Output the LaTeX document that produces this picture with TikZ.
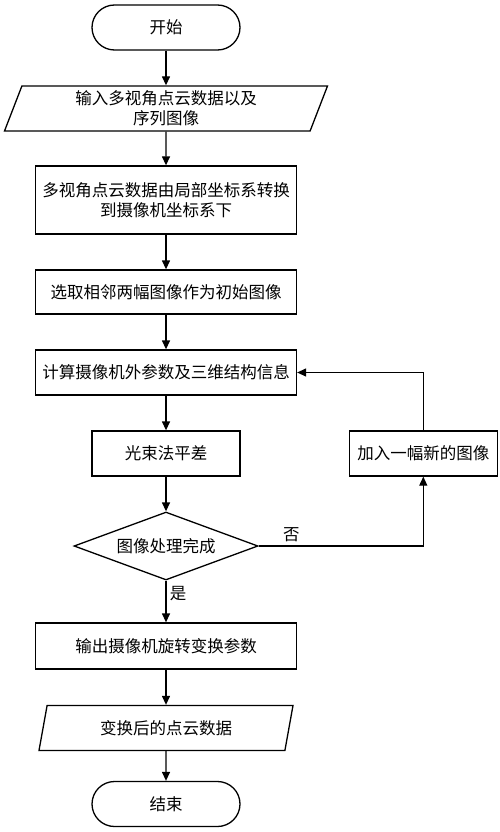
\documentclass[tikz,border=0pt]{standalone}
\usepackage{fontspec}
\setmainfont{Noto Sans CJK SC}
\usetikzlibrary{arrows.meta,positioning,shapes.geometric}

\begin{document}
\begin{tikzpicture}[x=1pt, y=1pt,
  font=\fontsize{16.5}{20}\selectfont,
  term/.style={draw, line width=1.3pt, rounded corners=22.5pt, minimum width=148pt, minimum height=45pt},
  proc/.style={draw, line width=1.3pt, minimum width=261pt, minimum height=45pt, align=center},
  io/.style={draw, line width=1.3pt, trapezium, trapezium left angle=65, trapezium right angle=115,
    trapezium stretches body, minimum height=45pt, inner sep=1pt, align=center},
  decide/.style={draw, line width=1.3pt, diamond, aspect=2.7, minimum width=184pt, minimum height=68pt, inner sep=0pt},
  arr/.style={-{Triangle[length=9pt,width=8pt]}, line width=1.3pt}]
\useasboundingbox (0,0) rectangle (500,-832);
\node[term] (start) at (166,-27.5) {开始};
\node[io, minimum width=323pt] (input) at (166,-108.5) {输入多视角点云数据以及\\序列图像};
\node[proc, minimum height=68pt] (conv) at (166,-200) {多视角点云数据由局部坐标系转换\\到摄像机坐标系下};
\node[proc, minimum height=44pt] (pick) at (166,-292) {选取相邻两幅图像作为初始图像};
\node[proc] (calc) at (166,-372.5) {计算摄像机外参数及三维结构信息};
\node[proc, minimum width=148pt] (bundle) at (166,-453.5) {光束法平差};
\node[proc, minimum width=148pt, right=108pt of bundle] (addimg) {加入一幅新的图像};
\node[decide] (done) at (166,-546) {图像处理完成};
\node[proc, minimum height=46pt] (outpar) at (166,-646) {输出摄像机旋转变换参数};
\node[io, minimum width=254pt] (cloud) at (166,-728) {变换后的点云数据};
\node[term] (stop) at (166,-804) {结束};
\draw[arr] (start) -- (input);
\draw[arr] (input) -- (conv);
\draw[arr] (conv) -- (pick);
\draw[arr] (pick) -- (calc);
\draw[arr] (calc) -- (bundle);
\draw[arr] (bundle) -- (done);
\draw[arr] (done) -- node[right, pos=0.3] {是} (outpar);
\draw[arr] (outpar) -- (cloud);
\draw[arr] (cloud) -- (stop);
\draw[arr] (done.east) -- node[above, pos=0.2] {否} ++(164,0) -| (addimg.south);
\draw[arr] (addimg.north) |- (calc.east);
\end{tikzpicture}
\end{document}
